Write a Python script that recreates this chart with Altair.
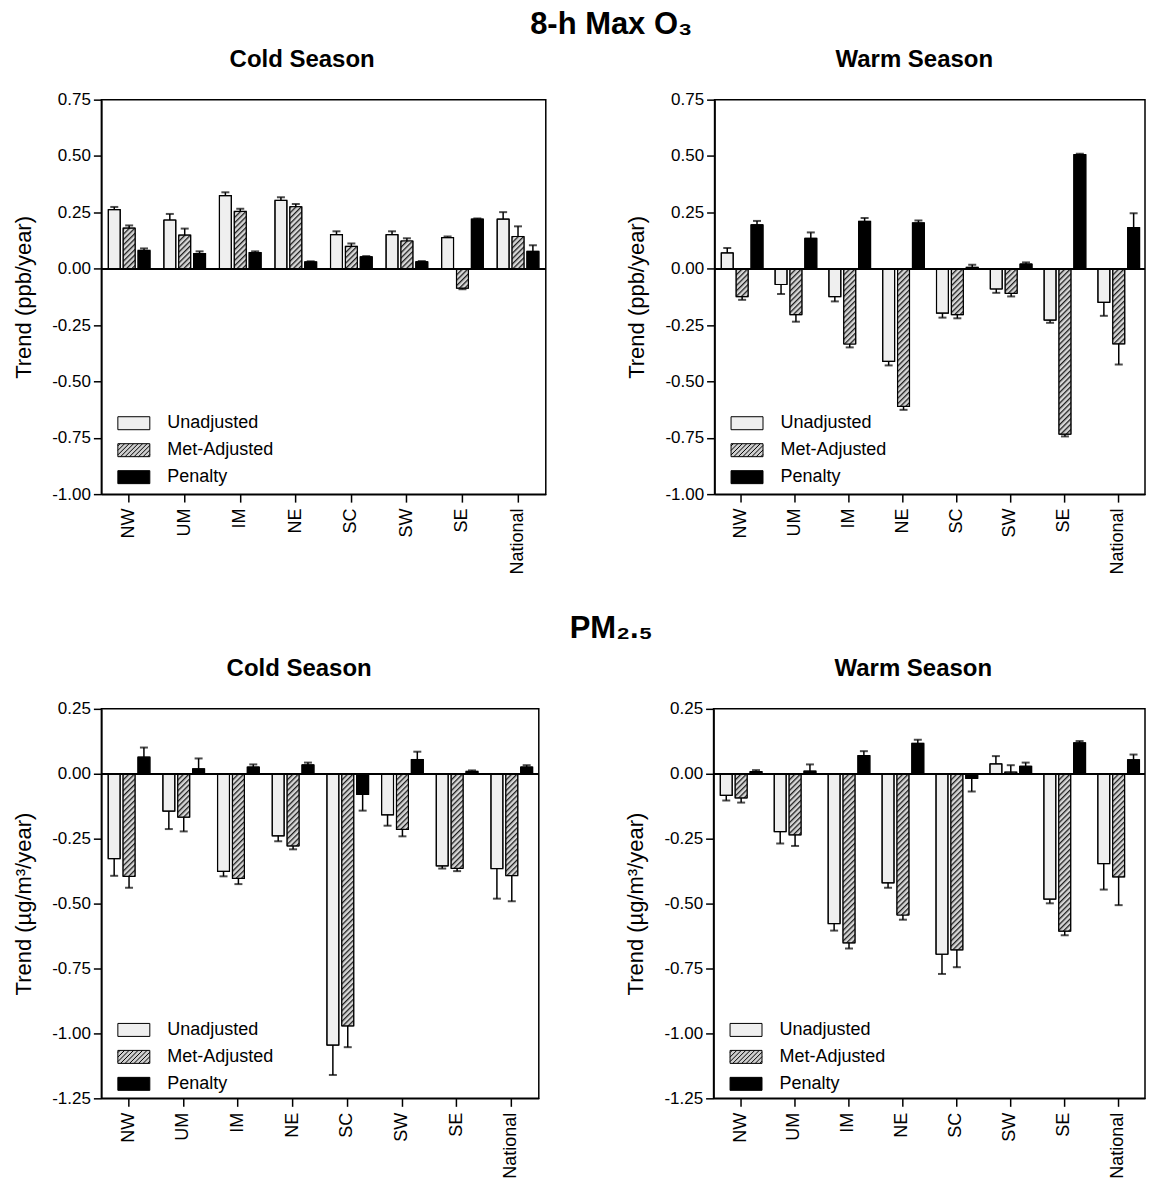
import base64
import altair as alt
import pandas as pd

FONT = "Liberation Sans"

regions = ["NW", "UM", "IM", "NE", "SC", "SW", "SE", "National"]
series = ["Unadjusted", "Met-Adjusted", "Penalty"]
series_fill = ["#efefef", "#cfcfcf", "#000000"]

# 8-h Max O3 - cold season
o3_cold_unadj = [0.262, 0.216, 0.324, 0.303, 0.151, 0.151, 0.138, 0.220]
o3_cold_unadj_err = [0.012, 0.027, 0.015, 0.014, 0.015, 0.015, 0.005, 0.031]
o3_cold_met = [0.180, 0.149, 0.254, 0.275, 0.099, 0.123, -0.086, 0.143]
o3_cold_met_err = [0.012, 0.029, 0.012, 0.012, 0.013, 0.012, 0.005, 0.045]
o3_cold_pen = [0.081, 0.067, 0.072, 0.030, 0.053, 0.031, 0.220, 0.077]
o3_cold_pen_err = [0.009, 0.010, 0.005, 0.003, 0.003, 0.003, 0.003, 0.027]

# 8-h Max O3 - warm season
o3_warm_unadj = [0.070, -0.070, -0.124, -0.411, -0.197, -0.090, -0.228, -0.149]
o3_warm_unadj_err = [0.022, 0.042, 0.021, 0.018, 0.020, 0.017, 0.012, 0.060]
o3_warm_met = [-0.124, -0.204, -0.334, -0.611, -0.204, -0.109, -0.734, -0.333]
o3_warm_met_err = [0.014, 0.031, 0.015, 0.015, 0.016, 0.014, 0.010, 0.092]
o3_warm_pen = [0.195, 0.135, 0.210, 0.203, 0.006, 0.021, 0.506, 0.182]
o3_warm_pen_err = [0.017, 0.026, 0.015, 0.011, 0.012, 0.007, 0.004, 0.064]

# PM2.5 - cold season
pm_cold_unadj = [-0.327, -0.144, -0.376, -0.239, -1.045, -0.158, -0.355, -0.365]
pm_cold_unadj_err = [0.066, 0.069, 0.019, 0.021, 0.115, 0.042, 0.010, 0.116]
pm_cold_met = [-0.395, -0.167, -0.403, -0.278, -0.971, -0.214, -0.364, -0.392]
pm_cold_met_err = [0.044, 0.055, 0.022, 0.013, 0.082, 0.027, 0.011, 0.099]
pm_cold_pen = [0.064, 0.019, 0.026, 0.034, -0.079, 0.055, 0.009, 0.026]
pm_cold_pen_err = [0.037, 0.040, 0.010, 0.009, 0.063, 0.030, 0.004, 0.007]

# PM2.5 - warm season
pm_warm_unadj = [-0.083, -0.223, -0.577, -0.420, -0.695, 0.038, -0.483, -0.346]
pm_warm_unadj_err = [0.020, 0.046, 0.027, 0.019, 0.076, 0.030, 0.016, 0.100]
pm_warm_met = [-0.093, -0.235, -0.651, -0.544, -0.678, 0.006, -0.606, -0.397]
pm_warm_met_err = [0.018, 0.043, 0.022, 0.018, 0.067, 0.027, 0.016, 0.109]
pm_warm_pen = [0.008, 0.010, 0.070, 0.117, -0.018, 0.029, 0.119, 0.054]
pm_warm_pen_err = [0.006, 0.026, 0.017, 0.014, 0.050, 0.014, 0.007, 0.020]

o3_ticks = [0.75, 0.5, 0.25, 0.0, -0.25, -0.5, -0.75, -1.0]
pm_ticks = [0.25, 0.0, -0.25, -0.5, -0.75, -1.0, -1.25]


def build_df(unadj, unadj_err, met, met_err, pen, pen_err):
    rows = []
    for s, vals, errs in zip(series, [unadj, met, pen], [unadj_err, met_err, pen_err]):
        for r, v, e in zip(regions, vals, errs):
            rows.append({"region": r, "series": s, "value": v,
                         "err_end": v + e if v >= 0 else v - e})
    return pd.DataFrame(rows)


# hatch pattern image (rendered 1:1 inside each Met-Adjusted bar)
hatch_svg = (
    '<svg xmlns="http://www.w3.org/2000/svg">'
    '<defs><pattern id="h" width="3.8" height="3.8" patternUnits="userSpaceOnUse" '
    'patternTransform="rotate(45)">'
    '<rect width="3.8" height="3.8" fill="#d6d6d6"/>'
    '<rect width="1.3" height="3.8" fill="#1e1e1e"/></pattern></defs>'
    '<rect width="100%" height="100%" fill="url(#h)"/></svg>'
)
HATCH_URL = "data:image/svg+xml;base64," + base64.b64encode(hatch_svg.encode()).decode()

# legend symbol paths
RX0, RX1, RY0, RY1 = -1.0, 2.2, -0.65, 0.65
rect_path = f"M{RX0},{RY0}H{RX1}V{RY1}H{RX0}Z"


def hatch_lines(step=0.45):
    h = RY1 - RY0
    segs = []
    c = RX0 - h + step / 2
    while c < RX1:
        t0 = max(0.0, RX0 - c)
        t1 = min(h, RX1 - c)
        if t1 > t0:
            segs.append(f"M{c + t0:.3f},{RY1 - t0:.3f}L{c + t1:.3f},{RY1 - t1:.3f}")
        c += step
    return "".join(segs)


met_path = rect_path + hatch_lines()
series_shape = [rect_path, met_path, rect_path]


def panel(df, title, ytitle, ydomain, yticks, width, height, legend_y, title_dx):
    x = alt.X("region:N", sort=regions, title=None,
              scale=alt.Scale(domain=regions, paddingInner=0.25, paddingOuter=0.125),
              axis=alt.Axis(labelAngle=-90, labelFontSize=18, labelPadding=6,
                            tickSize=8, tickWidth=1.5, tickColor="black",
                            domainColor="black", domainWidth=1.5, labelColor="black"))
    xo = alt.XOffset("series:N", sort=series,
                     scale=alt.Scale(domain=series, paddingInner=0.2, paddingOuter=0))
    yscale = alt.Scale(domain=ydomain, nice=False, zero=False)
    yaxis = alt.Axis(values=yticks,
                     labelExpr="(datum.value < 0 ? '-' : '') + format(abs(datum.value), '.2f')",
                     labelFontSize=17, labelPadding=3, tickSize=8, tickWidth=1.5,
                     tickColor="black", domainColor="black", domainWidth=1.5,
                     labelColor="black", grid=False, titleFontSize=22,
                     titleFontWeight="normal", titlePadding=16, titleColor="black")
    y = alt.Y("value:Q", title=ytitle, scale=yscale, axis=yaxis)

    base = alt.Chart(df)
    legend = alt.Legend(
        title=None, orient="none", legendX=16, legendY=legend_y,
        symbolSize=400, symbolStrokeColor="black",
        symbolStrokeWidth=1, symbolOpacity=1, labelFontSize=18, labelOffset=29,
        rowPadding=7, padding=0, labelColor="black")
    fill = alt.Fill("series:N", sort=series,
                    scale=alt.Scale(domain=series, range=series_fill), legend=legend)
    shape = alt.Shape("series:N", sort=series,
                      scale=alt.Scale(domain=series, range=series_shape), legend=legend)
    stroke = alt.Stroke("series:N", sort=series,
                        scale=alt.Scale(domain=series, range=["#000000"] * 3), legend=legend)
    bars = base.mark_bar(stroke="black", strokeWidth=1).encode(
        x=x, xOffset=xo, y=y, y2=alt.datum(0), fill=fill)
    keys = base.mark_point(filled=True, strokeWidth=1, opacity=0, size=1).encode(
        x=x, xOffset=xo, y=y, fill=fill, shape=shape, stroke=stroke)
    hatch = base.transform_filter(alt.datum.series == "Met-Adjusted").mark_image(
        aspect=False).encode(x=x, xOffset=xo, y=y, y2=alt.datum(0), url=alt.value(HATCH_URL))
    outline = base.mark_bar(fillOpacity=0, stroke="black", strokeWidth=1.2).encode(
        x=x, xOffset=xo, y=y, y2=alt.datum(0))
    zero = base.mark_rule(color="black", strokeWidth=1.5).encode(y=alt.datum(0))
    err = base.mark_rule(color="black", strokeWidth=1.5).encode(
        x=x, xOffset=xo, y=y, y2=alt.Y2("err_end:Q"))
    cap = base.mark_tick(color="black", size=8, thickness=2, orient="horizontal").encode(
        x=x, xOffset=xo, y=alt.Y("err_end:Q", title=ytitle, scale=yscale, axis=yaxis))
    return alt.layer(bars, keys, hatch, outline, zero, err, cap).properties(
        width=width, height=height,
        title=alt.TitleParams(title, fontSize=24, fontWeight="bold", anchor="middle",
                              frame="group", dx=title_dx, offset=18.5, color="black"))


df1 = build_df(o3_cold_unadj, o3_cold_unadj_err, o3_cold_met, o3_cold_met_err,
               o3_cold_pen, o3_cold_pen_err)
df2 = build_df(o3_warm_unadj, o3_warm_unadj_err, o3_warm_met, o3_warm_met_err,
               o3_warm_pen, o3_warm_pen_err)
df3 = build_df(pm_cold_unadj, pm_cold_unadj_err, pm_cold_met, pm_cold_met_err,
               pm_cold_pen, pm_cold_pen_err)
df4 = build_df(pm_warm_unadj, pm_warm_unadj_err, pm_warm_met, pm_warm_met_err,
               pm_warm_pen, pm_warm_pen_err)

o3_title = "Trend (ppb/year)"
pm_title = "Trend (\u00b5g/m\u00b3/year)"

p1 = panel(df1, "Cold Season", o3_title, [-1.0, 0.75], o3_ticks, 445, 395, 313.5, -21.5)
p2 = panel(df2, "Warm Season", o3_title, [-1.0, 0.75], o3_ticks, 431, 395, 313.5, -15.5)
p3 = panel(df3, "Cold Season", pm_title, [-1.25, 0.25], pm_ticks, 438, 390, 311, -21)
p4 = panel(df4, "Warm Season", pm_title, [-1.25, 0.25], pm_ticks, 432, 390, 311, -16)

indep = dict(fill="independent", shape="independent", stroke="independent")

top = alt.hconcat(p1, p2, spacing=77,
                  title=alt.TitleParams("8-h Max O\u2083", fontSize=31, fontWeight="bold",
                                        anchor="middle", frame="bounds", dx=32,
                                        offset=6.5, color="black")
                  ).resolve_scale(**indep).resolve_legend(**indep)
bottom = alt.hconcat(p3, p4, spacing=83,
                     title=alt.TitleParams("PM\u2082.\u2085", fontSize=31, fontWeight="bold",
                                           anchor="middle", frame="bounds", dx=32,
                                           offset=11.3, color="black")
                     ).resolve_scale(**indep).resolve_legend(**indep)

chart = alt.vconcat(top, bottom, spacing=38).resolve_scale(**indep).resolve_legend(
    **indep).properties(
    padding={"left": 3.5, "top": 0, "right": 0, "bottom": 0}
).configure(font=FONT).configure_view(stroke="black", strokeWidth=1.5).configure_axis(
    labelFont=FONT, titleFont=FONT).configure_legend(labelFont=FONT).configure_title(font=FONT)

chart.save("out.html", embed_options={"renderer": "svg", "actions": False})
